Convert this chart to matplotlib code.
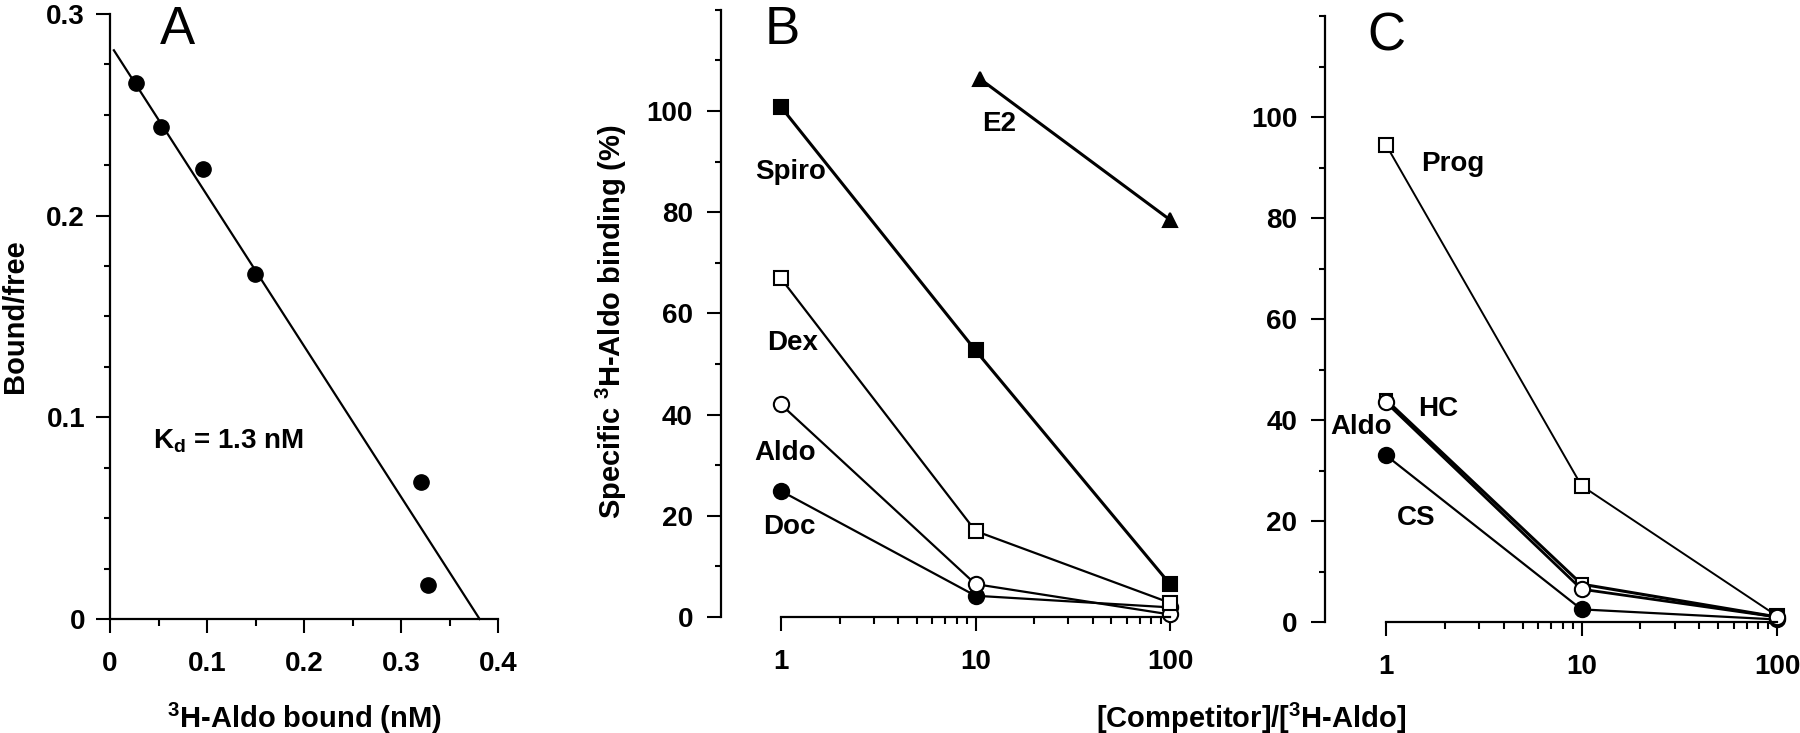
import numpy as np
import matplotlib
matplotlib.use("Agg")
import matplotlib.pyplot as plt
from matplotlib.ticker import FixedLocator, NullFormatter

# ---- data -------------------------------------------------------------
# panel A (Scatchard plot)
a_bound = [0.027, 0.053, 0.096, 0.149, 0.321, 0.328]
a_ratio = [0.266, 0.244, 0.223, 0.171, 0.068, 0.017]
a_fit_x = [0.004, 0.381]
a_fit_y = [0.282, 0.0]

# panels B and C (competition)
ratio = [1, 10, 100]
e2_x = [10.5, 100]

b_spiro = [100.8, 52.7, 6.5]
b_e2 = [106.4, 78.5]
b_dex = [66.9, 17.0, 2.8]
b_aldo = [42.0, 6.5, 0.5]
b_doc = [24.9, 4.2, 1.9]

c_prog = [94.5, 27.0, 1.2]
c_hc = [44.0, 7.5, 1.0]
c_aldo = [43.5, 6.5, 1.0]
c_cs = [33.0, 2.5, 0.5]

plt.rcParams['font.family'] = 'Liberation Sans'
plt.rcParams['font.weight'] = 'bold'
plt.rcParams['mathtext.fontset'] = 'custom'
plt.rcParams['mathtext.rm'] = 'Liberation Sans:bold'
plt.rcParams['mathtext.it'] = 'Liberation Sans:bold'
plt.rcParams['mathtext.bf'] = 'Liberation Sans:bold'

W, H = 1800, 733
fig = plt.figure(figsize=(W / 100, H / 100), dpi=100)

FS = 20      # tick labels / annotations
FL = 21      # axis titles


def place(xa, xb, pxa, pxb, xlim, ya, yb, pya, pyb, ylim, log=False):
    # axes rectangle from two pixel anchors per axis
    f = np.log10 if log else (lambda v: v)
    sx = (pxb - pxa) / (f(xb) - f(xa))
    left = pxa + (f(xlim[0]) - f(xa)) * sx
    right = pxa + (f(xlim[1]) - f(xa)) * sx
    sy = (pyb - pya) / (yb - ya)
    bottom = pya + (ylim[0] - ya) * sy
    top = pya + (ylim[1] - ya) * sy
    return [left / W, 1 - bottom / H, (right - left) / W, (bottom - top) / H]


def style(ax):
    for s in ['top', 'right']:
        ax.spines[s].set_visible(False)
    for s in ['left', 'bottom']:
        ax.spines[s].set_linewidth(1.6)
    ax.tick_params(which='both', direction='out', width=1.5, labelsize=FS)
    ax.tick_params(axis='y', which='major', length=10, pad=8)
    ax.tick_params(axis='y', which='minor', length=4.5)
    ax.tick_params(axis='x', which='major', length=10, pad=13)
    ax.tick_params(axis='x', which='minor', length=5)
    ax.patch.set_alpha(0)


# ---- panel A ----------------------------------------------------------
xlimA, ylimA = (-0.03, 0.42), (-0.02, 0.31)
axA = fig.add_axes(place(0, 0.4, 110, 498, xlimA, 0, 0.3, 619, 14, ylimA))
axA.set_xlim(xlimA)
axA.set_ylim(ylimA)
style(axA)
axA.spines['left'].set_position(('data', 0))
axA.spines['bottom'].set_position(('data', 0))
axA.spines['left'].set_bounds(0, 0.3)
axA.spines['bottom'].set_bounds(0, 0.4)
axA.set_xticks([0, 0.1, 0.2, 0.3, 0.4], labels=['0', '0.1', '0.2', '0.3', '0.4'])
axA.set_yticks([0, 0.1, 0.2, 0.3], labels=['0', '0.1', '0.2', '0.3'])
axA.xaxis.set_minor_locator(FixedLocator([0.05, 0.15, 0.25, 0.35]))
axA.yaxis.set_minor_locator(FixedLocator(np.arange(0.025, 0.3, 0.025)))
axA.plot(a_fit_x, a_fit_y, color='black', lw=1.6)
axA.plot(a_bound, a_ratio, 'o', color='black', ms=11)
axA.text(0.070, 0.292, 'A', fontsize=38, fontweight='normal', ha='center', va='center')
axA.text(0.044, 0.088, r'K$_{d}$ = 1.3 nM', fontsize=FS, ha='left', va='center')


# ---- panels B / C -----------------------------------------------------
def comp_axes(px1, px100, py0, py100, spine_x):
    xlim, ylim = (0.4, 130), (-8, 125)
    ax = fig.add_axes(place(1, 100, px1, px100, xlim, 0, 100, py0, py100, ylim, log=True))
    ax.set_xscale('log')
    ax.set_xlim(xlim)
    ax.set_ylim(ylim)
    style(ax)
    ax.tick_params(axis='y', which='major', pad=10)
    ax.spines['left'].set_position(('data', spine_x))
    ax.spines['bottom'].set_position(('data', 0))
    ax.spines['left'].set_bounds(0, 120)
    ax.spines['bottom'].set_bounds(1, 100)
    ax.set_xticks([1, 10, 100], labels=['1', '10', '100'])
    ax.xaxis.set_minor_locator(FixedLocator([2, 3, 4, 5, 6, 7, 8, 9,
                                             20, 30, 40, 50, 60, 70, 80, 90]))
    ax.xaxis.set_minor_formatter(NullFormatter())
    ax.set_yticks([0, 20, 40, 60, 80, 100], labels=['0', '20', '40', '60', '80', '100'])
    ax.yaxis.set_minor_locator(FixedLocator([10, 30, 50, 70, 90, 110, 120]))
    return ax


def series(ax, x, y, marker, filled, lw=1.6, ms=11):
    ax.plot(x, y, '-', color='black', lw=lw, marker=marker, ms=ms,
            mfc='black' if filled else 'white', mec='black', mew=1.5)


axB = comp_axes(781, 1170, 617, 111, 0.49)
series(axB, ratio, b_doc, 'o', True)
series(axB, ratio, b_aldo, 'o', False)
series(axB, ratio, b_dex, 's', False, ms=10)
series(axB, ratio, b_spiro, 's', True, lw=2.2, ms=10)
series(axB, e2_x, b_e2, '^', True, lw=2.2, ms=10)
axB.text(1.02, 116, 'B', fontsize=38, fontweight='normal', ha='center', va='center')
for txt, x, y in [('Spiro', 1.12, 88), ('E2', 13.2, 97.4), ('Dex', 1.15, 54.2),
                  ('Aldo', 1.05, 32.5), ('Doc', 1.1, 17.7)]:
    axB.text(x, y, txt, fontsize=FS, ha='center', va='center')

axC = comp_axes(1386, 1777, 622, 117, 0.488)
series(axC, ratio, c_cs, 'o', True)
series(axC, ratio, c_prog, 's', False, lw=1.4, ms=10)
series(axC, ratio, c_hc, 's', False, lw=2.2, ms=9)
series(axC, ratio, c_aldo, 'o', False, lw=2.0)
axC.text(1.0, 116, 'C', fontsize=38, fontweight='normal', ha='center', va='center')
for txt, x, y in [('Prog', 2.2, 90.7), ('HC', 1.85, 42.2), ('Aldo', 0.745, 38.6),
                  ('CS', 1.43, 20.5)]:
    axC.text(x, y, txt, fontsize=FS, ha='center', va='center')

# ---- axis titles ------------------------------------------------------
fig.text(15 / W, 1 - 316 / H, 'Bound/free', rotation=90, fontsize=FL,
         ha='center', va='center')
fig.text(611 / W, 1 - 322 / H, r'Specific $^{3}$H-Aldo binding (%)', rotation=90,
         fontsize=FL, ha='center', va='center')
fig.text(304 / W, 1 - 718 / H, r'$^{3}$H-Aldo bound (nM)', fontsize=FL,
         ha='center', va='center')
fig.text(1251 / W, 1 - 718 / H, r'[Competitor]/[$^{3}$H-Aldo]', fontsize=FL,
         ha='center', va='center')

fig.savefig('out.png', dpi=100)
